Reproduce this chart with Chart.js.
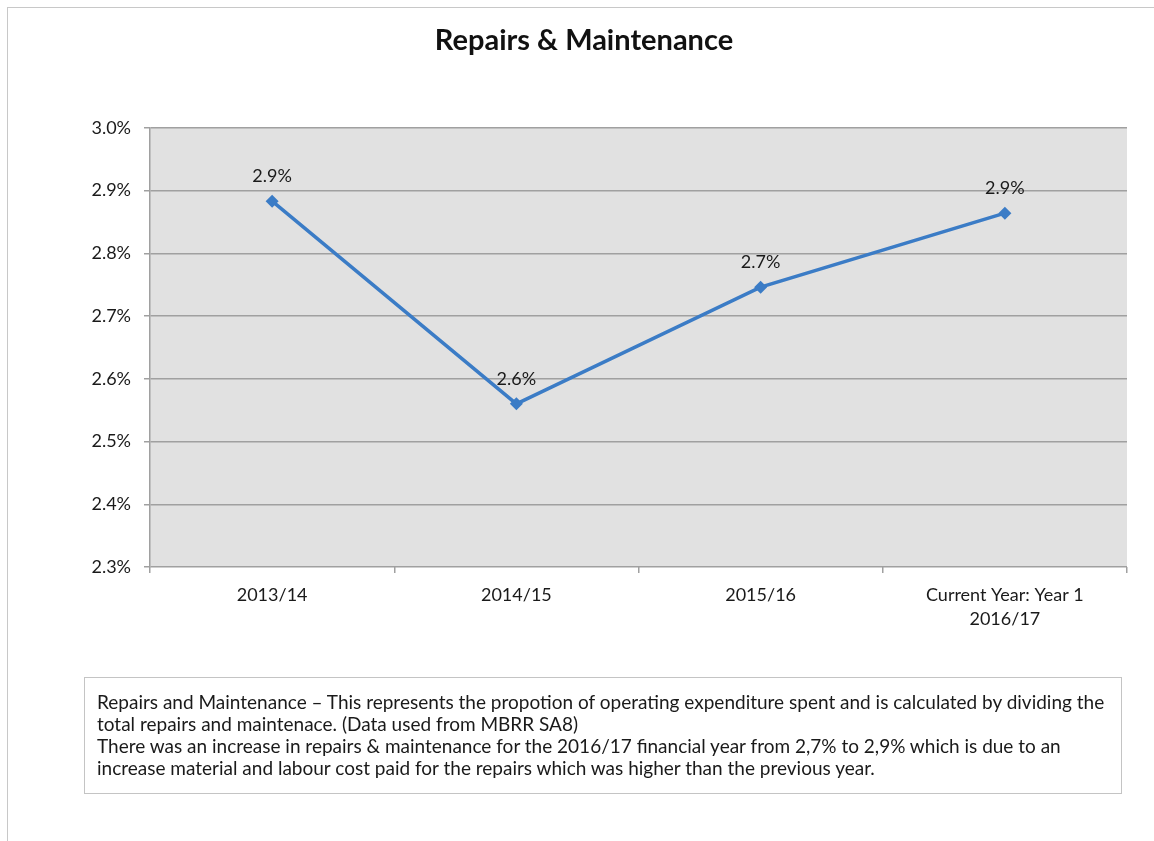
<!DOCTYPE html>
<html>
<head>
<meta charset="utf-8">
<script src="https://cdn.jsdelivr.net/npm/chart.js@4"></script>
<style>
  html, body { margin: 0; padding: 0; background: #fff; }
  #frame {
    position: absolute; left: 7px; top: 7px; width: 1200px; height: 900px;
    border-left: 1px solid #c8c8c8; border-top: 1px solid #c8c8c8;
  }
  #wrap { position: absolute; left: 0; top: 0; width: 1154px; height: 841px; }
  #note {
    position: absolute; left: 84px; top: 677px; width: 1012px; height: 88px;
    border: 1px solid #c4c4c4; padding: 13px 12px 14px 12px;
    font-family: Lato, sans-serif; font-size: 19px; line-height: 22px; color: #1a1a1a;
    white-space: nowrap;
  }
</style>
</head>
<body>
<div id="frame"></div>
<div id="wrap"><canvas id="rmChart"></canvas></div>
<div id="note">Repairs and Maintenance – This represents the propotion of operating expenditure spent and is calculated by dividing the<br>total repairs and maintenace. (Data used from MBRR SA8)<br>There was an increase in repairs &amp; maintenance for the 2016/17 financial year from 2,7% to 2,9% which is due to an<br>increase material and labour cost paid for the repairs which was higher than the previous year.</div>
<script>
const years = ["2013/14", "2014/15", "2015/16", ["Current Year: Year 1", "2016/17"]];
const ratio = [2.883, 2.56, 2.746, 2.864];
const yTicks = [2.3, 2.4, 2.5, 2.6, 2.7, 2.8, 2.9, 3.0];

const FONT = "Lato, sans-serif";

// grey plot background behind the grid
const plotBg = {
  id: "plotBg",
  beforeDraw(chart) {
    const { ctx, chartArea: a } = chart;
    ctx.save();
    ctx.fillStyle = "#e1e1e1";
    ctx.fillRect(a.left, a.top, a.right - a.left, a.bottom - a.top);
    ctx.restore();
  },
};

// value labels above each point
const pointLabels = {
  id: "pointLabels",
  afterDatasetsDraw(chart) {
    const ctx = chart.ctx;
    const meta = chart.getDatasetMeta(0);
    ctx.save();
    ctx.font = "18px " + FONT;
    ctx.fillStyle = "#1a1a1a";
    ctx.textAlign = "center";
    ctx.textBaseline = "middle";
    meta.data.forEach((pt, i) => {
      ctx.fillText(ratio[i].toFixed(1) + "%", pt.x, pt.y - 25);
    });
    ctx.restore();
  },
};

new Chart(document.getElementById("rmChart"), {
  type: "line",
  data: {
    labels: years,
    datasets: [{
      data: ratio,
      borderColor: "#3b7cc6",
      backgroundColor: "#3b7cc6",
      borderWidth: 3.5,
      pointStyle: "rectRot",
      pointRadius: 6.5,
      pointBorderWidth: 0,
      tension: 0,
    }],
  },
  options: {
    responsive: true,
    maintainAspectRatio: false,
    animation: false,
    layout: { padding: { left: 41, right: 27, top: 0, bottom: 204 } },
    plugins: {
      legend: { display: false },
      tooltip: { enabled: false },
      title: {
        display: true,
        text: "Repairs & Maintenance",
        color: "#111",
        font: { family: FONT, size: 29, weight: "bold", lineHeight: 1.2 },
        padding: { top: 23, bottom: 70 },
      },
    },
    scales: {
      x: {
        offset: true,
        afterFit(scale) { scale.height = 70; },
        grid: {
          offset: true,
          drawOnChartArea: false,
          tickLength: 6,
          color: "#a0a0a0",
          lineWidth: 1.5,
        },
        border: { display: false },
        ticks: {
          color: "#1a1a1a",
          padding: 10,
          font: { family: FONT, size: 18, lineHeight: 1.35 },
          maxRotation: 0,
        },
      },
      y: {
        min: 2.3,
        max: 3.0,
        afterFit(scale) { scale.width = 109; },
        afterBuildTicks(scale) {
          scale.ticks = yTicks.map(v => ({ value: v }));
        },
        grid: { color: "#a0a0a0", lineWidth: 1.5, tickLength: 6 },
        border: { display: true, color: "#a0a0a0", width: 1.5 },
        ticks: {
          color: "#1a1a1a",
          padding: 13,
          font: { family: FONT, size: 18 },
          callback: v => v.toFixed(1) + "%",
        },
      },
    },
  },
  plugins: [plotBg, pointLabels],
});
</script>
</body>
</html>
